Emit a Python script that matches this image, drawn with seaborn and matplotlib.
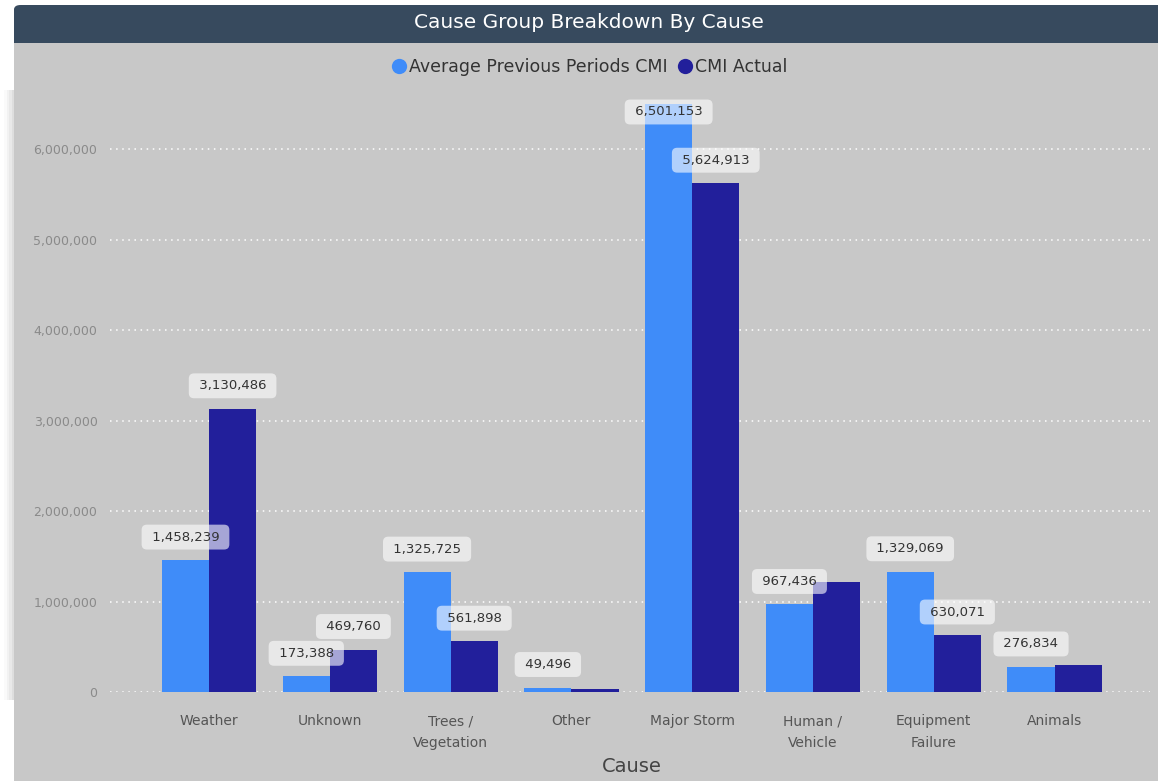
import matplotlib
matplotlib.use("Agg")
import matplotlib.pyplot as plt
from matplotlib.patches import FancyBboxPatch, Rectangle
from matplotlib.lines import Line2D
from matplotlib.ticker import FuncFormatter
import seaborn as sns
import pandas as pd

# --- data -------------------------------------------------------------
causes = ["Weather", "Unknown", "Trees /\nVegetation", "Other", "Major Storm",
          "Human /\nVehicle", "Equipment\nFailure", "Animals"]
avg_previous_cmi = [1458239, 173388, 1325725, 49496, 6501153, 967436, 1329069, 276834]
cmi_actual = [3130486, 469760, 561898, 38000, 5624913, 1218000, 630071, 298000]
# which bars carry a data label
avg_previous_labeled = [True, True, True, True, True, True, True, True]
cmi_actual_labeled = [True, True, True, False, True, False, True, False]
series_names = ["Average Previous Periods CMI", "CMI Actual"]
series_colors = ["#3f8cf9", "#221f9b"]
y_ticks = [0, 1000000, 2000000, 3000000, 4000000, 5000000, 6000000]

df = pd.DataFrame({
    "Cause": causes * 2,
    "Series": [series_names[0]] * len(causes) + [series_names[1]] * len(causes),
    "CMI": avg_previous_cmi + cmi_actual,
})

# --- figure / card ----------------------------------------------------
W, H = 1158, 781
DPI = 100
fig = plt.figure(figsize=(W / DPI, H / DPI), dpi=DPI, facecolor="white")

def fx(px):
    return px / W

def fy(py):
    return 1 - py / H

# soft shadow on the left edge of the card
for i, a in enumerate([0.04, 0.06, 0.08, 0.10]):
    fig.patches.append(Rectangle((fx(4 + i * 2.5), fy(700)), fx(20), fy(90) - fy(700),
                                 transform=fig.transFigure, facecolor="#808080",
                                 alpha=a, edgecolor="none", zorder=0))

# card body
fig.patches.append(FancyBboxPatch((fx(14), -0.05), fx(W + 20), fy(5) + 0.05,
                                  boxstyle="round,pad=0,rounding_size=0.006",
                                  transform=fig.transFigure, facecolor="#c8c8c8",
                                  edgecolor="none", zorder=1))
# title bar
fig.patches.append(FancyBboxPatch((fx(14), fy(43)), fx(W + 20), fy(5) - fy(43),
                                  boxstyle="round,pad=0,rounding_size=0.006",
                                  transform=fig.transFigure, facecolor="#374a5e",
                                  edgecolor="none", zorder=2))
fig.patches.append(Rectangle((fx(14), fy(43)), fx(W), fy(30) - fy(43),
                             transform=fig.transFigure, facecolor="#374a5e",
                             edgecolor="none", zorder=2))
fig.text(fx(589), fy(23), "Cause Group Breakdown By Cause", color="white",
         fontsize=14.5, ha="center", va="center", zorder=3)

# --- plot -------------------------------------------------------------
ax = fig.add_axes([fx(110), fy(692), fx(1150) - fx(110), fy(95) - fy(692)])
ax.set_zorder(5)
ax.patch.set_visible(False)

sns.barplot(data=df, x="Cause", y="CMI", hue="Series", palette=series_colors,
            width=0.78, gap=0, saturation=1, ax=ax, legend=False,
            edgecolor="none", linewidth=0, zorder=2)

ax.set_xlim(-0.82, 7.79)
ax.set_ylim(0, 6.6e6)
ax.set_yticks(y_ticks)
ax.yaxis.set_major_formatter(FuncFormatter(lambda v, p: f"{v:,.0f}"))
ax.tick_params(axis="y", length=0, pad=9, labelsize=9, labelcolor="#8a8a8a")
ax.tick_params(axis="x", length=0, pad=16, labelsize=10, labelcolor="#555555")
for lbl in ax.get_xticklabels():
    lbl.set_linespacing(1.75)

ax.grid(axis="y", color="white", linestyle=(0, (1, 3)), linewidth=1.1, zorder=0)
ax.grid(axis="x", visible=False)
ax.set_axisbelow(True)
for s in ax.spines.values():
    s.set_visible(False)

ax.set_ylabel("")
ax.set_xlabel("Cause", fontsize=14, color="#444444")
ax.xaxis.set_label_coords((632 - 110) / 1040, -(757 - 692) / 597)

# data labels: 23 px above the bar, but kept inside the plot area
fig.canvas.draw()
label_gap_px = 23
ceiling_px = fig.bbox.height - 112   # highest allowed label centre (display coords)
for container, shown in zip(ax.containers, [avg_previous_labeled, cmi_actual_labeled]):
    for bar, show in zip(container, shown):
        if not show:
            continue
        v = bar.get_height()
        xc = bar.get_x() + bar.get_width() / 2
        top_px = ax.transData.transform((xc, v))[1]
        centre_px = min(top_px + label_gap_px, ceiling_px)
        offset_pt = (centre_px - top_px) * 72 / DPI
        ax.annotate(f" {v:,.0f} ", xy=(xc, v),
                    xytext=(0, offset_pt), textcoords="offset points",
                    ha="center", va="center", fontsize=9.5, color="#333333",
                    zorder=5, annotation_clip=False,
                    bbox=dict(boxstyle="round,pad=0.45,rounding_size=0.4",
                              facecolor="white", alpha=0.6, edgecolor="none"))

# legend
handles = [Line2D([], [], marker="o", linestyle="none", markersize=11,
                  markerfacecolor=c, markeredgecolor="none") for c in series_colors]
fig.legend(handles, series_names, loc="center", bbox_to_anchor=(fx(588), fy(67)),
           ncol=2, frameon=False, fontsize=12.5, labelcolor="#333333",
           handletextpad=0.0, columnspacing=0.4, handlelength=1.2)

fig.savefig("out.png", dpi=DPI, facecolor="white")
